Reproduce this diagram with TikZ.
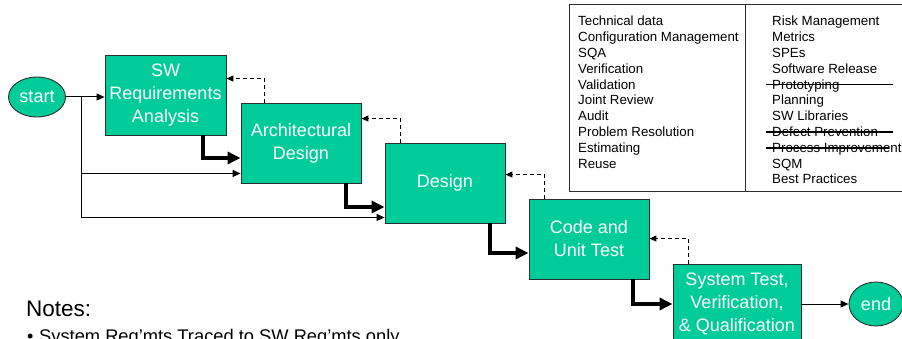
\documentclass[tikz,border=0pt]{standalone}
\usepackage{fontspec}
\setmainfont{Liberation Sans}
\usetikzlibrary{arrows.meta,shapes.geometric}
\definecolor{boxfill}{RGB}{0,204,153}
\definecolor{edgegray}{RGB}{45,45,45}

\begin{document}
\begin{tikzpicture}[x=1pt,y=-1pt,
  stepbox/.style={draw=edgegray, line width=0.9pt, fill=boxfill, text=white,
    minimum width=120pt, minimum height=80pt, inner sep=0pt, align=center,
    font=\fontsize{18}{23}\selectfont},
  terminal/.style={ellipse, draw=edgegray, line width=0.9pt, fill=boxfill, text=white,
    minimum width=57pt, minimum height=40pt, inner sep=0pt,
    font=\fontsize{18}{22}\selectfont},
  flow/.style={line width=1pt, -{Triangle[length=8pt,width=7pt]}},
  mainflow/.style={line width=4pt, -{Triangle[length=13pt,width=12pt]}},
  back/.style={line width=1pt, dash pattern=on 4pt off 3pt, -{Triangle[length=7pt,width=6pt]}},
  item/.style={anchor=base west, inner sep=0pt, font=\fontsize{13.3}{16}\selectfont},
  strike/.style={line width=1.3pt},
]
\clip (0,0) rectangle (902,339);

% process steps
\node[stepbox, minimum width=121pt] (sw)     at (165.5,95) {SW\\Requirements\\Analysis};
\node[stepbox] (arch)   at (301,143) {Architectural\\Design};
\node[stepbox] (design) at (445,183) {Design};
\node[stepbox] (code)   at (589,239) {Code and\\Unit Test};
\node[stepbox, minimum width=128pt] (sys) at (737,304) {System Test,\\Verification,\\\& Qualification};

% start / end
\node[terminal] (start) at (37,97) {start};
\node[terminal, minimum width=54pt, minimum height=44pt] (end) at (876,304) {end};

% entry flow and its branches
\coordinate (br) at (81,97);
\draw[flow] (start.east) -- (start.east -| sw.west);
\draw[flow] (br) |- ([yshift=10pt]arch.south west);
\draw[flow] (br) |- ([yshift=6pt]design.south west);
\draw[flow] (sys.east) -- (end.west);

% main forward flow
\draw[mainflow] ([xshift=-23pt]sw.south east) |- ([yshift=-15pt]arch.west);
\draw[mainflow] ([xshift=-15pt]arch.south east) |- ([yshift=-24pt]design.west);
\draw[mainflow] ([xshift=-15pt]design.south east) |- ([yshift=-14pt]code.west);
\draw[mainflow] ([xshift=-16pt]code.south east) |- (sys.west);

% feedback loops
\draw[back] ([xshift=24pt]arch.north west) |- ([yshift=-24pt]sw.north east);
\draw[back] ([xshift=16pt]design.north west) |- ([yshift=-16pt]arch.north east);
\draw[back] ([xshift=16pt]code.north west) |- ([yshift=-32pt]design.north east);
\draw[back] ([xshift=16pt]sys.north west) |- ([yshift=-40pt]code.north east);

% supporting processes table
\draw[line width=0.9pt, draw=edgegray] (569,4) rectangle (920,191);
\draw[line width=0.9pt, draw=edgegray] (745,4) -- (745,191);
\foreach \t [count=\i from 0] in {Technical data, Configuration Management, SQA,
    Verification, Validation, Joint Review, Audit, Problem Resolution, Estimating, Reuse}
  \node[item] (l\i) at (578,26+15.8*\i) {\t};
\foreach \t [count=\i from 0] in {Risk Management, Metrics, SPEs, Software Release,
    Prototyping, Planning, SW Libraries, Defect Prevention, Process Improvement, SQM,
    Best Practices}
  \node[item] (r\i) at (772,26+15.8*\i) {\t};
\draw[strike] ([xshift=-6pt,yshift=4.5pt]r4.base west) -- ++(127,0);
\draw[strike] ([xshift=-6pt,yshift=4.5pt]r7.base west) -- ++(127,0);
\draw[strike] ([xshift=-6pt,yshift=4.5pt]r8.base west) -- ++(123,0);

% notes
\node[anchor=base west, inner sep=0pt, font=\fontsize{22.5}{27}\selectfont] (notes) at (26,316) {Notes:};
\node[anchor=base west, inner sep=0pt, font=\fontsize{18}{22}\selectfont] (bul) at (27,342) {•};
\node[anchor=base west, inner sep=0pt, font=\fontsize{18.3}{22}\selectfont] (note1) at (39,342) {System Req’mts Traced to SW Req’mts only};
\end{tikzpicture}
\end{document}
